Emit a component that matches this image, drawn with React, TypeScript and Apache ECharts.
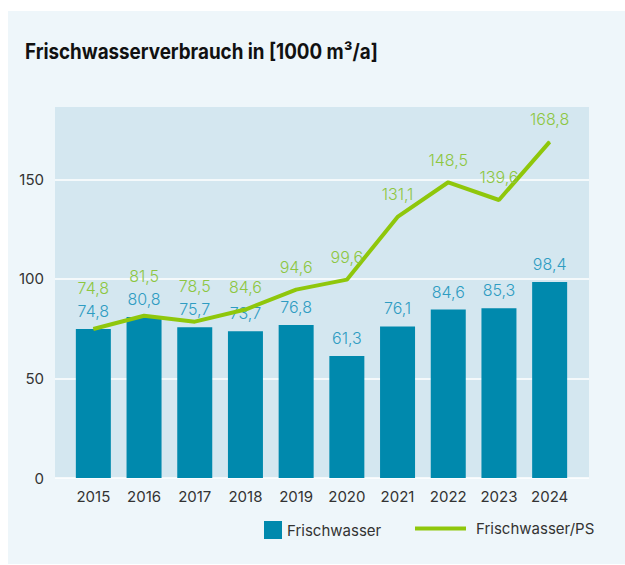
import React, { useEffect, useRef } from "react";
import * as echarts from "echarts";

const years = ["2015", "2016", "2017", "2018", "2019", "2020", "2021", "2022", "2023", "2024"];
const freshWater = [74.8, 80.8, 75.7, 73.7, 76.8, 61.3, 76.1, 84.6, 85.3, 98.4];
const freshWaterPerPS = [74.8, 81.5, 78.5, 84.6, 94.6, 99.6, 131.1, 148.5, 139.6, 168.8];
const yTicks = [0, 50, 100, 150];
const titleText = "Frischwasserverbrauch in [1000 m³/a]";
const seriesNames = ["Frischwasser", "Frischwasser/PS"];

const FONT = "Inter, 'Noto Sans', sans-serif";
const fmt = (v: number) => v.toFixed(1).replace(".", ",");

export default function App() {
  const ref = useRef<HTMLDivElement>(null);
  useEffect(() => {
    if (!ref.current) return;
    const chart = echarts.init(ref.current, null, { renderer: "svg" });
    const lineData = freshWaterPerPS.map((v, i) => {
      const diff = v - freshWater[i];
      const offset = Math.max(23, 42 - diff * 2);
      return { value: v, label: { distance: offset - 9 } };
    });
    chart.setOption({
      animation: false,
      graphic: [
        { type: "rect", z: -10, shape: { x: 8, y: 11, width: 617, height: 553 }, style: { fill: "#eef6fa" } },
        { type: "rect", z: -9, shape: { x: 55, y: 107, width: 534, height: 371 }, style: { fill: "#d4e7f0" } },
        {
          type: "text",
          x: 25,
          y: 41,
          scaleX: 0.895,
          style: {
            text: titleText,
            font: "bold 21px Inter, 'Noto Sans', sans-serif",
            fill: "#111",
            textVerticalAlign: "top",
          },
        },
      ],
      grid: [
        { left: 55, right: 36, top: 179.3, bottom: 87 },
        { left: 68, right: 50, top: 107, bottom: 87 },
      ],
      xAxis: [
        { type: "category", gridIndex: 0, data: years, show: false },
        {
          type: "category",
          gridIndex: 1,
          data: years,
          axisLine: { show: false },
          axisTick: { show: false },
          axisLabel: { color: "#333", fontSize: 15, fontFamily: FONT, margin: 11 },
        },
      ],
      yAxis: [
        {
          type: "value",
          gridIndex: 0,
          min: yTicks[0],
          max: yTicks[yTicks.length - 1],
          interval: 50,
          axisLine: { show: false },
          axisTick: { show: false },
          axisLabel: { color: "#333", fontSize: 15, fontFamily: FONT, margin: 11 },
          splitLine: { show: true, lineStyle: { color: "#ffffff", width: 1.5 } },
        },
        {
          type: "value",
          gridIndex: 1,
          min: 0,
          max: 186.3,
          show: false,
          splitLine: { show: false },
        },
      ],
      legend: [
        {
          data: [seriesNames[0]],
          left: 264,
          top: 521,
          padding: 0,
          itemWidth: 18,
          itemHeight: 18,
          icon: "rect",
          textStyle: { color: "#333", fontSize: 15, fontFamily: FONT },
        },
        {
          data: [seriesNames[1]],
          left: 415,
          top: 521,
          padding: 0,
          itemWidth: 51,
          itemHeight: 4,
          icon: "rect",
          textStyle: { color: "#333", fontSize: 15, fontFamily: FONT, padding: [0, 0, 0, 5] },
        },
      ],
      series: [
        {
          name: seriesNames[0],
          type: "bar",
          xAxisIndex: 1,
          yAxisIndex: 1,
          data: freshWater,
          barWidth: 35,
          itemStyle: { color: "#0089ad" },
          label: {
            show: true,
            position: "top",
            distance: 10,
            color: "#2e9cc2",
            fontSize: 16,
            fontFamily: FONT,
            fontWeight: 300,
            formatter: (p: any) => fmt(p.value),
          },
          z: 2,
        },
        {
          name: seriesNames[1],
          type: "line",
          xAxisIndex: 1,
          yAxisIndex: 1,
          data: lineData,
          symbol: "circle",
          symbolSize: 1,
          itemStyle: { color: "#8fc70b" },
          lineStyle: { color: "#8fc70b", width: 4 },
          label: {
            show: true,
            position: "top",
            color: "#8dc63f",
            fontSize: 16,
            fontFamily: FONT,
            fontWeight: 300,
            formatter: (p: any) => fmt(p.value),
          },
          z: 3,
        },
      ],
    });
    return () => chart.dispose();
  }, []);
  return <div ref={ref} style={{ position: "absolute", left: 0, top: 0, width: 625, height: 565 }} />;
}
